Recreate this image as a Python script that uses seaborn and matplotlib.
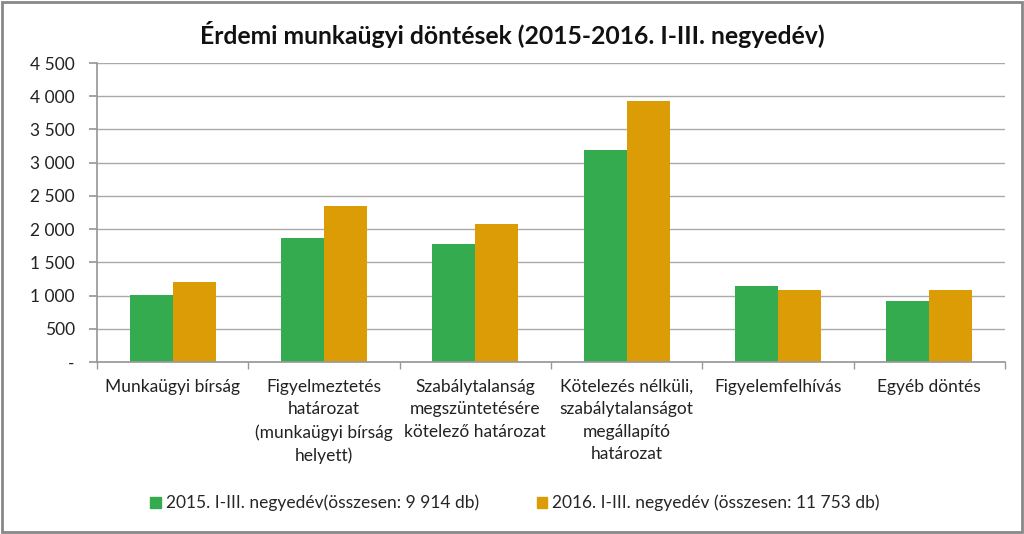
import matplotlib
matplotlib.use("Agg")
import matplotlib.pyplot as plt
import seaborn as sns
import pandas as pd
from matplotlib.patches import Rectangle

categories = ["Munkaügyi bírság",
              "Figyelmeztetés\nhatározat\n(munkaügyi bírság\nhelyett)",
              "Szabálytalanság\nmegszüntetésére\nkötelező határozat",
              "Kötelezés nélküli,\nszabálytalanságot\nmegállapító\nhatározat",
              "Figyelemfelhívás",
              "Egyéb döntés"]
series_names = ["2015. I-III. negyedév(összesen: 9 914 db)",
                "2016. I-III. negyedév (összesen: 11 753 db)"]
values_2015 = [1015, 1860, 1780, 3195, 1145, 919]
values_2016 = [1210, 2355, 2080, 3935, 1088, 1085]
yticks = [0, 500, 1000, 1500, 2000, 2500, 3000, 3500, 4000, 4500]
ytick_labels = ["-", "500", "1 000", "1 500", "2 000", "2 500", "3 000", "3 500", "4 000", "4 500"]
title = "Érdemi munkaügyi döntések (2015-2016. I-III. negyedév)"

df = pd.DataFrame({
    "cat": categories * 2,
    "series": [series_names[0]] * 6 + [series_names[1]] * 6,
    "value": values_2015 + values_2016,
})

sns.set_theme(style="white")
plt.rcParams['font.family'] = ['Lato', 'DejaVu Sans']

fig = plt.figure(figsize=(10.24, 5.34), dpi=100)
ax = fig.add_axes([97/1024, 1 - 362/534, 908/1024, 299/534])

palette = {series_names[0]: "#33AB4E", series_names[1]: "#DC9C06"}
sns.barplot(data=df, x="cat", y="value", hue="series", palette=palette,
            width=0.57, gap=0, ax=ax, saturation=1, errorbar=None, linewidth=0)

ax.set_ylim(0, 4500)
ax.set_xlim(-0.5, 5.5)
ax.set_yticks(yticks)
ax.set_yticklabels(ytick_labels, fontsize=12.5, color="#222222")
ax.yaxis.grid(True, color="#AAAAAA", linewidth=1)
ax.set_axisbelow(True)
ax.set_xlabel("")
ax.set_ylabel("")
ax.set_xticks(range(6))
ax.set_xticklabels(categories, fontsize=12.5, color="#222222", linespacing=1.5)
ax.tick_params(axis="x", length=0, pad=12)
ax.tick_params(axis="y", length=6, color="#999999", left=True, direction="out", pad=10)
ax.set_xticks([i - 0.5 for i in range(7)], minor=True)
ax.tick_params(axis="x", which="minor", length=5, color="#999999", bottom=True, direction="out")

for s in ["top", "right"]:
    ax.spines[s].set_visible(False)
ax.spines["left"].set_color("#999999")
ax.spines["bottom"].set_color("#999999")

ax.legend_.remove()
handles = [Rectangle((0, 0), 1, 1, color=palette[n]) for n in series_names]
fig.legend(handles, series_names, loc="center", bbox_to_anchor=(0.503, 1 - 503/534),
           ncol=2, frameon=False, fontsize=12.5, handlelength=0.6, handleheight=0.6,
           columnspacing=3.3, handletextpad=0.3)

fig.text(0.5, 1 - 35/534, title, ha="center", va="center", fontsize=17.8, fontweight="bold", color="#111111")

fig.patches.append(Rectangle((0.002, 0.003), 0.996, 0.994, transform=fig.transFigure,
                             fill=False, edgecolor="#888888", linewidth=2))

fig.savefig("out.png", dpi=100)
